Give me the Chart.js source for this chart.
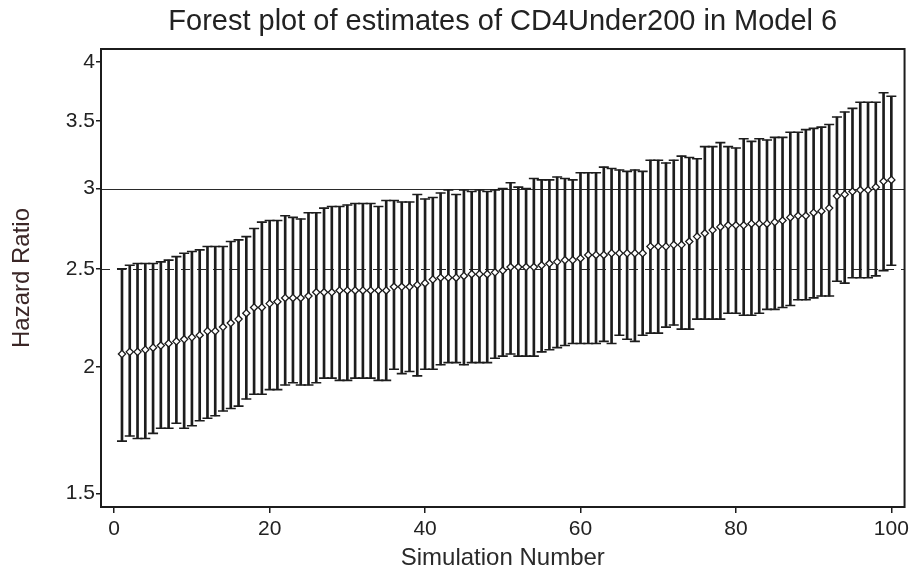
<!DOCTYPE html>
<html>
<head>
<meta charset="utf-8">
<script src="https://cdn.jsdelivr.net/npm/chart.js@4.4.1/dist/chart.umd.min.js"></script>
<style>
  html, body { margin: 0; padding: 0; background: #ffffff; }
  #wrap { width: 913px; height: 576px; }
</style>
</head>
<body>
<div id="wrap"><canvas id="c" width="913" height="576"></canvas></div>
<script>
// Simulation runs, sorted by hazard-ratio estimate
const simulationNumbers = Array.from({ length: 100 }, (_, i) => i + 1);

const hazardRatio = [
  2.06, 2.07, 2.07, 2.08, 2.09, 2.10, 2.11, 2.12, 2.13, 2.14,
  2.15, 2.17, 2.17, 2.19, 2.21, 2.23, 2.26, 2.29, 2.29, 2.31,
  2.32, 2.34, 2.34, 2.34, 2.35, 2.37, 2.37, 2.37, 2.38, 2.38,
  2.38, 2.38, 2.38, 2.38, 2.38, 2.40, 2.40, 2.40, 2.41, 2.42,
  2.44, 2.45, 2.45, 2.45, 2.46, 2.47, 2.47, 2.47, 2.48, 2.49,
  2.51, 2.51, 2.51, 2.51, 2.52, 2.53, 2.54, 2.55, 2.55, 2.56,
  2.58, 2.58, 2.58, 2.59, 2.59, 2.59, 2.59, 2.59, 2.63, 2.63,
  2.63, 2.64, 2.64, 2.66, 2.69, 2.71, 2.73, 2.75, 2.76, 2.76,
  2.76, 2.77, 2.77, 2.77, 2.78, 2.79, 2.81, 2.82, 2.82, 2.84,
  2.85, 2.87, 2.95, 2.96, 2.98, 2.99, 2.99, 3.01, 3.05, 3.06
];

const lowerCI = [
  1.69, 1.71, 1.70, 1.70, 1.72, 1.74, 1.74, 1.76, 1.74, 1.75,
  1.77, 1.78, 1.79, 1.81, 1.82, 1.83, 1.86, 1.88, 1.88, 1.90,
  1.90, 1.92, 1.93, 1.92, 1.92, 1.93, 1.95, 1.95, 1.94, 1.94,
  1.95, 1.95, 1.95, 1.94, 1.94, 1.99, 1.97, 1.98, 1.96, 1.99,
  1.99, 2.01, 2.02, 2.02, 2.01, 2.02, 2.02, 2.02, 2.04, 2.05,
  2.06, 2.05, 2.05, 2.05, 2.07, 2.08, 2.09, 2.10, 2.11, 2.11,
  2.11, 2.11, 2.12, 2.11, 2.15, 2.13, 2.12, 2.15, 2.16, 2.16,
  2.19, 2.20, 2.18, 2.18, 2.23, 2.23, 2.23, 2.23, 2.26, 2.26,
  2.25, 2.25, 2.26, 2.28, 2.28, 2.29, 2.30, 2.33, 2.33, 2.34,
  2.35, 2.35, 2.43, 2.42, 2.45, 2.45, 2.45, 2.46, 2.49, 2.52
];

const upperCI = [
  2.50, 2.52, 2.53, 2.53, 2.53, 2.54, 2.55, 2.57, 2.59, 2.60,
  2.61, 2.63, 2.63, 2.63, 2.66, 2.67, 2.69, 2.74, 2.78, 2.79,
  2.79, 2.82, 2.81, 2.80, 2.84, 2.84, 2.87, 2.88, 2.88, 2.89,
  2.90, 2.90, 2.90, 2.88, 2.92, 2.92, 2.91, 2.91, 2.96, 2.93,
  2.94, 2.97, 2.99, 2.96, 2.99, 2.98, 2.99, 2.98, 2.99, 3.00,
  3.04, 3.01, 3.00, 3.07, 3.06, 3.06, 3.08, 3.07, 3.06, 3.11,
  3.11, 3.11, 3.15, 3.14, 3.13, 3.12, 3.13, 3.12, 3.20, 3.20,
  3.18, 3.20, 3.23, 3.22, 3.21, 3.30, 3.30, 3.33, 3.30, 3.29,
  3.36, 3.34, 3.36, 3.35, 3.37, 3.37, 3.41, 3.41, 3.43, 3.44,
  3.45, 3.47, 3.53, 3.57, 3.60, 3.65, 3.65, 3.65, 3.73, 3.70
];

const xTickValues = [0, 20, 40, 60, 80, 100];
const yTickValues = [1.5, 2, 2.5, 3, 3.5, 4];

// Horizontal reference lines: true value (solid) and 2.5 (dashed)
const referenceValues = [3, 2.5];
const referenceDashes = [[], [9, 7]];

const ink = '#1c1c1c';
const fontFamily = '"Liberation Sans", Arial, sans-serif';

const spikeData = simulationNumbers.map((n, i) => ({ x: n, y: [lowerCI[i], upperCI[i]] }));
const lowCapData = simulationNumbers.map((n, i) => ({ x: n, y: lowerCI[i] }));
const highCapData = simulationNumbers.map((n, i) => ({ x: n, y: upperCI[i] }));
const estimateData = simulationNumbers.map((n, i) => ({ x: n, y: hazardRatio[i] }));

const referenceLines = {
  id: 'referenceLines',
  beforeDatasetsDraw(chart) {
    const { ctx, chartArea, scales } = chart;
    ctx.save();
    ctx.strokeStyle = '#2a2a2a';
    ctx.lineWidth = 1.2;
    referenceValues.forEach((v, i) => {
      const y = Math.round(scales.y.getPixelForValue(v)) + 0.5;
      ctx.setLineDash(referenceDashes[i]);
      ctx.beginPath();
      ctx.moveTo(chartArea.left, y);
      ctx.lineTo(chartArea.right, y);
      ctx.stroke();
    });
    ctx.restore();
  }
};

const plotFrame = {
  id: 'plotFrame',
  afterDraw(chart) {
    const { ctx, chartArea } = chart;
    ctx.save();
    ctx.strokeStyle = ink;
    ctx.lineWidth = 2;
    ctx.strokeRect(chartArea.left, chartArea.top, chartArea.right - chartArea.left, chartArea.bottom - chartArea.top);
    ctx.restore();
  }
};

new Chart(document.getElementById('c'), {
  type: 'bar',
  data: {
    datasets: [
      {
        type: 'bar',
        data: spikeData,
        backgroundColor: ink,
        borderWidth: 0,
        barThickness: 2,
        order: 4
      },
      {
        type: 'scatter',
        data: lowCapData,
        pointStyle: 'line',
        radius: 5,
        borderColor: ink,
        borderWidth: 1.6,
        order: 3
      },
      {
        type: 'scatter',
        data: highCapData,
        pointStyle: 'line',
        radius: 5,
        borderColor: ink,
        borderWidth: 1.6,
        order: 2
      },
      {
        type: 'scatter',
        data: estimateData,
        pointStyle: 'rectRot',
        radius: 3.6,
        backgroundColor: '#ffffff',
        borderColor: ink,
        borderWidth: 1.3,
        order: 1
      }
    ]
  },
  options: {
    responsive: false,
    animation: false,
    events: [],
    layout: { padding: { left: 0, right: 7, top: 0, bottom: 0 } },
    plugins: {
      legend: { display: false },
      tooltip: { enabled: false },
      title: {
        display: true,
        fullSize: false,
        text: 'Forest plot of estimates of CD4Under200 in Model 6',
        color: '#222222',
        font: { family: fontFamily, size: 29, weight: 'normal', lineHeight: 1.2 },
        padding: { top: 5, bottom: 9.2 }
      }
    },
    scales: {
      x: {
        type: 'linear',
        min: -1.7,
        max: 101.7,
        offset: false,
        afterBuildTicks(scale) { scale.ticks = xTickValues.map(v => ({ value: v })); },
        afterFit(scale) { scale.height = 69; },
        grid: { display: true, offset: false, drawOnChartArea: false, tickLength: 6, color: ink, lineWidth: 1.5 },
        border: { display: false },
        ticks: {
          color: '#222222',
          font: { family: fontFamily, size: 21 },
          padding: 4,
          maxRotation: 0,
          autoSkip: false,
          callback: v => String(v)
        },
        title: {
          display: true,
          text: 'Simulation Number',
          color: '#2a2a2a',
          font: { family: fontFamily, size: 24, lineHeight: 1.2 },
          padding: { top: 0, bottom: 3 }
        }
      },
      y: {
        type: 'logarithmic',
        min: 1.455,
        max: 4.12,
        afterBuildTicks(scale) { scale.ticks = yTickValues.map(v => ({ value: v })); },
        afterFit(scale) { scale.width = 101; },
        grid: { display: true, drawOnChartArea: false, tickLength: 5, color: ink, lineWidth: 1.5 },
        border: { display: false },
        ticks: {
          color: '#222222',
          font: { family: fontFamily, size: 21 },
          padding: 1,
          autoSkip: false,
          callback: v => String(v)
        },
        title: {
          display: true,
          text: 'Hazard Ratio',
          color: '#3a2626',
          font: { family: fontFamily, size: 24, lineHeight: 1.2 },
          padding: { top: 8, bottom: 0 }
        }
      }
    }
  },
  plugins: [referenceLines, plotFrame]
});
</script>
</body>
</html>
